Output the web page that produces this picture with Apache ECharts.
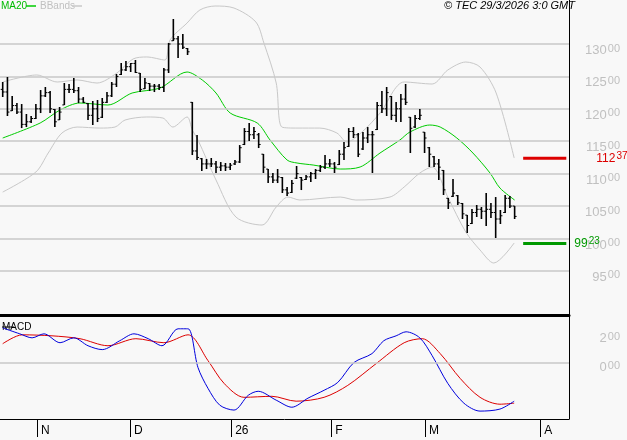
<!DOCTYPE html>
<html><head><meta charset="utf-8">
<script src="https://cdn.jsdelivr.net/npm/echarts@6/dist/echarts.min.js"></script>
<style>html,body{margin:0;padding:0;background:#f8f8f8}#c{width:627px;height:440px}</style>
</head><body><div id="c"></div>
<script>
// OHLC per trading day (index 0..108)
const opens=[12300,12260,11970,12050,11950,11760,11800,11850,12000,12200,12250,11990,11830,12060,12300,12300,12280,12150,12080,11900,12000,11870,12100,12200,12380,12530,12600,12650,12700,12550,12310,12390,12350,12350,12330,12600,13050,13080,13000,12930,12100,11350,11230,11150,11150,11150,11100,11120,11100,11150,11180,11450,11650,11600,11600,11300,11070,10950,10900,10940,10750,10710,10930,10940,10910,10950,11000,11050,11100,11150,11150,11140,11300,11420,11650,11600,11380,11550,11600,11680,12050,12000,12190,11900,12000,12150,11870,11720,11850,11640,11400,11260,11150,11050,10620,10650,10660,10540,10360,10230,10400,10450,10420,10450,10400,10300,10400,10620,10500];
const highs=[12414,12491,12198,12090,12074,11920,11889,12074,12290,12337,12275,11997,12028,12398,12383,12476,12337,12182,12090,12121,12136,12167,12259,12414,12537,12707,12738,12707,12753,12553,12476,12398,12383,12383,12630,13016,13386,13124,13154,12938,12105,11596,11241,11226,11241,11195,11179,11164,11164,11210,11441,11703,11781,11719,11627,11303,11071,11010,11071,10948,10794,10902,11118,10948,10979,11025,11071,11133,11287,11226,11179,11365,11488,11703,11719,11627,11642,11719,11658,12105,12275,12337,12198,12105,12229,12383,11874,11905,11997,11642,11411,11272,11226,11056,10624,10917,10670,10547,10362,10454,10516,10485,10701,10547,10639,10439,10670,10655,10500];
const lows=[12182,11889,11966,11920,11703,11719,11781,11843,11935,12182,11935,11719,11827,12059,12244,12244,12090,12090,11827,11750,11796,11858,12090,12182,12337,12522,12583,12568,12553,12259,12306,12275,12259,12290,12259,12553,13046,12784,12923,12830,11287,11210,11041,11071,11102,11010,11041,11041,11056,11133,11164,11441,11503,11534,11395,11010,10855,10855,10855,10701,10655,10701,10917,10747,10902,10871,10917,11025,11071,11102,11010,11133,11210,11411,11550,11256,11365,11472,11010,11673,11935,11889,11827,11796,11796,12059,11318,11703,11827,11318,11102,11102,10902,10670,10454,10639,10516,10300,10084,10223,10331,10300,10192,10315,10007,10223,10392,10470,10300];
const closes=[12260,11950,12050,11950,11760,11800,11850,12000,12200,12250,12000,11800,11950,12300,12300,12280,12150,12100,11900,12000,11850,12100,12200,12380,12500,12600,12650,12700,12560,12300,12400,12350,12350,12330,12600,13000,13080,13000,12950,12880,11350,11250,11150,11150,11150,11100,11120,11100,11130,11180,11400,11650,11600,11650,11450,11100,10950,10900,10950,10750,10700,10850,11000,10900,10950,11000,11050,11100,11150,11150,11100,11300,11400,11650,11600,11300,11550,11600,11600,12050,12000,12250,11900,12000,12150,12100,11700,11850,11900,11550,11300,11150,11100,10750,10550,10700,10550,10380,10200,10400,10450,10420,10450,10400,10300,10350,10620,10500,10340];
// indicators: [index, value]
const ma20=[[0,11550],[7.9,11781],[12.1,11982],[16.3,12090],[22.2,12059],[27.3,12244],[33.2,12321],[38.9,12568],[42.1,12445],[45,12244],[48,11935],[53.7,11781],[56.4,11519],[60,11210],[62.1,11164],[65.5,11133],[71.2,11071],[75.4,11102],[79.6,11318],[83.8,11519],[85.9,11642],[90.1,11750],[92.3,11719],[95.8,11550],[99.2,11318],[102.8,11010],[104.9,10778],[108,10593]];
const bbUpper=[[0,12414],[7.2,12522],[11.5,12414],[15.7,12445],[19.9,12398],[24.1,12553],[27.5,12769],[30.4,12800],[34.2,12753],[35.3,13062],[38.9,13324],[41.6,13525],[44.8,13586],[48.8,13555],[53.4,13340],[55.1,13016],[57.7,12398],[58.9,11719],[62.1,11703],[66.9,11703],[70.5,11627],[72.6,11488],[75.8,11642],[79.6,11935],[84.7,12414],[90.6,12383],[93.9,12599],[97.7,12722],[100.7,12645],[104.1,12244],[107.9,11241]];
const bbLower=[[0,10716],[7,11025],[9.6,11318],[12.5,11627],[15.7,11719],[20.5,11703],[23.7,11719],[25.8,11827],[30.4,11874],[33.8,11858],[35.9,11719],[38.9,11874],[40,11673],[41.2,11519],[45,10902],[49.2,10331],[54.7,10207],[57.7,10485],[60.2,10639],[62.7,10593],[71.2,10639],[74.5,10593],[81.7,10639],[84.7,10794],[88,11010],[90.6,11102],[93.9,10639],[97.7,10099],[100.7,9822],[103.6,9621],[107.9,9930]];
const macd=[[0,241],[3.6,200],[6.2,172],[8.7,200],[12.1,138],[15,172],[18,117],[21,90],[24.7,152],[27.7,200],[30.7,166],[33.6,117],[37,235],[39.1,235],[41.2,-35],[43.3,-179],[45.8,-297],[48.8,-331],[51.8,-228],[53.9,-200],[57.7,-262],[61,-311],[64.4,-248],[67.8,-193],[70.7,-138],[74.1,0],[77.9,62],[80.4,152],[83,186],[85.1,214],[88,172],[90.6,48],[93.9,-145],[97.3,-283],[100.7,-338],[104.9,-324],[107.9,-269]];
const signal=[[0,131],[4.1,193],[10.4,186],[16.3,166],[22.2,117],[28.1,166],[34,138],[39.1,193],[43.3,14],[46.7,-145],[50.9,-242],[56.8,-235],[61.9,-269],[67.8,-242],[72.8,-159],[78.8,-7],[84.7,138],[88.5,166],[92.3,62],[96.5,-110],[100.7,-242],[104.9,-290],[107.9,-283]];
const priceTicks=[9500,10000,10500,11000,11500,12000,12500,13000];
const macdTicks=[0,200];
const monthTicks=[7.24,26.86,48.2,69.3,89.1,113.4];
const monthLabels=['N','D','26','F','M','A'];
const resistance=11237, support=9923;

const ohlc=opens.map((o,i)=>[i,o,highs[i],lows[i],closes[i]]);
const chart=echarts.init(document.getElementById('c'));
const XMIN=-0.57, XMAX=119.47;
const font='"Liberation Sans", Arial, sans-serif';
const priceFmt=v=>'{a|'+Math.floor(v/100)+'}{b|00}';
const rich={a:{color:'#c0c0c0',fontSize:13,fontFamily:font},b:{color:'#c0c0c0',fontSize:11,fontFamily:font,padding:[0,0,4,1]}};
chart.setOption({
  animation:false, backgroundColor:'#f8f8f8',
  textStyle:{fontFamily:font},
  grid:[{left:0,top:0,width:569,height:315},{left:0,top:316,width:569,height:103}],
  xAxis:[
    {gridIndex:0,type:'value',min:XMIN,max:XMAX,axisLine:{show:true,onZero:false,lineStyle:{color:'#000',width:3}},axisTick:{show:false},axisLabel:{show:false},splitLine:{show:false}},
    {gridIndex:1,type:'value',min:XMIN,max:XMAX,axisLine:{show:true,onZero:false,lineStyle:{color:'#000',width:1}},
     axisTick:{show:true,length:18,lineStyle:{color:'#000'},customValues:monthTicks},
     axisLabel:{show:true,customValues:monthTicks,formatter:v=>{const k=monthTicks.findIndex(t=>Math.abs(t-v)<0.01);return k>=0?monthLabels[k]:'';},align:'left',padding:[0,0,0,4],margin:6,color:'#000',fontSize:12,fontFamily:font},
     splitLine:{show:false}}
  ],
  yAxis:[
    {gridIndex:0,type:'value',position:'right',min:8819,max:13679,axisLine:{show:true,onZero:false,lineStyle:{color:'#000'}},axisTick:{show:false},splitLine:{show:false},
     axisLabel:{customValues:priceTicks,formatter:priceFmt,align:'right',margin:51,padding:[13,0,0,0],rich:rich}},
    {gridIndex:1,type:'value',position:'right',min:-393,max:324,axisLine:{show:true,onZero:false,lineStyle:{color:'#000'}},axisTick:{show:false},splitLine:{show:false},
     axisLabel:{customValues:macdTicks,formatter:v=>'{a|'+Math.floor(v/100)+'}{b|00}',align:'right',margin:51,padding:[10,0,0,0],rich:rich}}
  ],
  series:[
    {type:'line',xAxisIndex:0,yAxisIndex:0,data:[],silent:true,
     markLine:{symbol:'none',silent:true,label:{show:false},lineStyle:{color:'#c8c8c8',width:1.5,type:'solid'},data:priceTicks.map(v=>({yAxis:v}))}},
    {type:'line',xAxisIndex:1,yAxisIndex:1,data:[],silent:true,
     markLine:{symbol:'none',silent:true,label:{show:false},lineStyle:{color:'#c8c8c8',width:1.5,type:'solid'},data:[{yAxis:0}]}},
    {type:'line',data:bbUpper,showSymbol:false,lineStyle:{color:'#c8c8c8',width:1},smooth:0.3},
    {type:'line',data:bbLower,showSymbol:false,lineStyle:{color:'#c8c8c8',width:1},smooth:0.3},
    {type:'line',data:ma20,showSymbol:false,lineStyle:{color:'#00cc00',width:1},smooth:0.3},
    {type:'custom',xAxisIndex:0,yAxisIndex:0,data:ohlc,z:5,
     renderItem:(p,api)=>{const i=api.value(0);const o=api.coord([i,api.value(1)]),h=api.coord([i,api.value(2)]),l=api.coord([i,api.value(3)]),c=api.coord([i,api.value(4)]);
       const st={stroke:'#000',lineWidth:1.6};
       return {type:'group',children:[
         {type:'line',shape:{x1:h[0],y1:h[1],x2:l[0],y2:l[1]},style:st},
         {type:'line',shape:{x1:o[0]-2,y1:o[1],x2:o[0],y2:o[1]},style:{stroke:'#000',lineWidth:1}},
         {type:'line',shape:{x1:c[0],y1:c[1],x2:c[0]+2,y2:c[1]},style:{stroke:'#000',lineWidth:1}}]};}},
    {type:'line',data:[[109.8,resistance],[118.9,resistance]],showSymbol:false,lineStyle:{color:'#dd0000',width:3},
     endLabel:{show:true,formatter:'{a|112}{b|37}',distance:30,rich:{a:{color:'#dd0000',fontSize:12,fontFamily:font},b:{color:'#dd0000',fontSize:10,fontFamily:font,padding:[0,0,4,1]}}}},
    {type:'line',data:[[109.8,support],[118.9,support]],showSymbol:false,lineStyle:{color:'#009900',width:3},z:6,
     endLabel:{show:true,formatter:'{a|99}{b|23}',distance:8,rich:{a:{color:'#009900',fontSize:12,fontFamily:font},b:{color:'#009900',fontSize:10,fontFamily:font,padding:[0,0,4,1]}}}},
    {type:'line',xAxisIndex:1,yAxisIndex:1,data:signal,showSymbol:false,lineStyle:{color:'#dd0000',width:1},smooth:0.3},
    {type:'line',xAxisIndex:1,yAxisIndex:1,data:macd,showSymbol:false,lineStyle:{color:'#0000dd',width:1},smooth:0.3}
  ],
  graphic:[
    {type:'text',left:1,top:1,style:{text:'MA20',fill:'#00bb00',fontSize:10,fontFamily:font}},
    {type:'line',shape:{x1:26,y1:6,x2:36,y2:6},style:{stroke:'#00cc00',lineWidth:1.5}},
    {type:'text',left:40,top:1,style:{text:'BBands',fill:'#c0c0c0',fontSize:10,fontFamily:font}},
    {type:'line',shape:{x1:72,y1:6,x2:82,y2:6},style:{stroke:'#c8c8c8',lineWidth:1.5}},
    {type:'text',right:52,top:0,style:{text:'© TEC 29/3/2026 3:0 GMT',fill:'#000',fontSize:11,fontStyle:'italic',fontFamily:font}},
    {type:'text',left:2,top:322,style:{text:'MACD',fill:'#000',fontSize:10,fontFamily:font}},
    {type:'line',shape:{x1:2,y1:327,x2:14,y2:327},style:{stroke:'#000',lineWidth:1}}
  ]
});
</script></body></html>
